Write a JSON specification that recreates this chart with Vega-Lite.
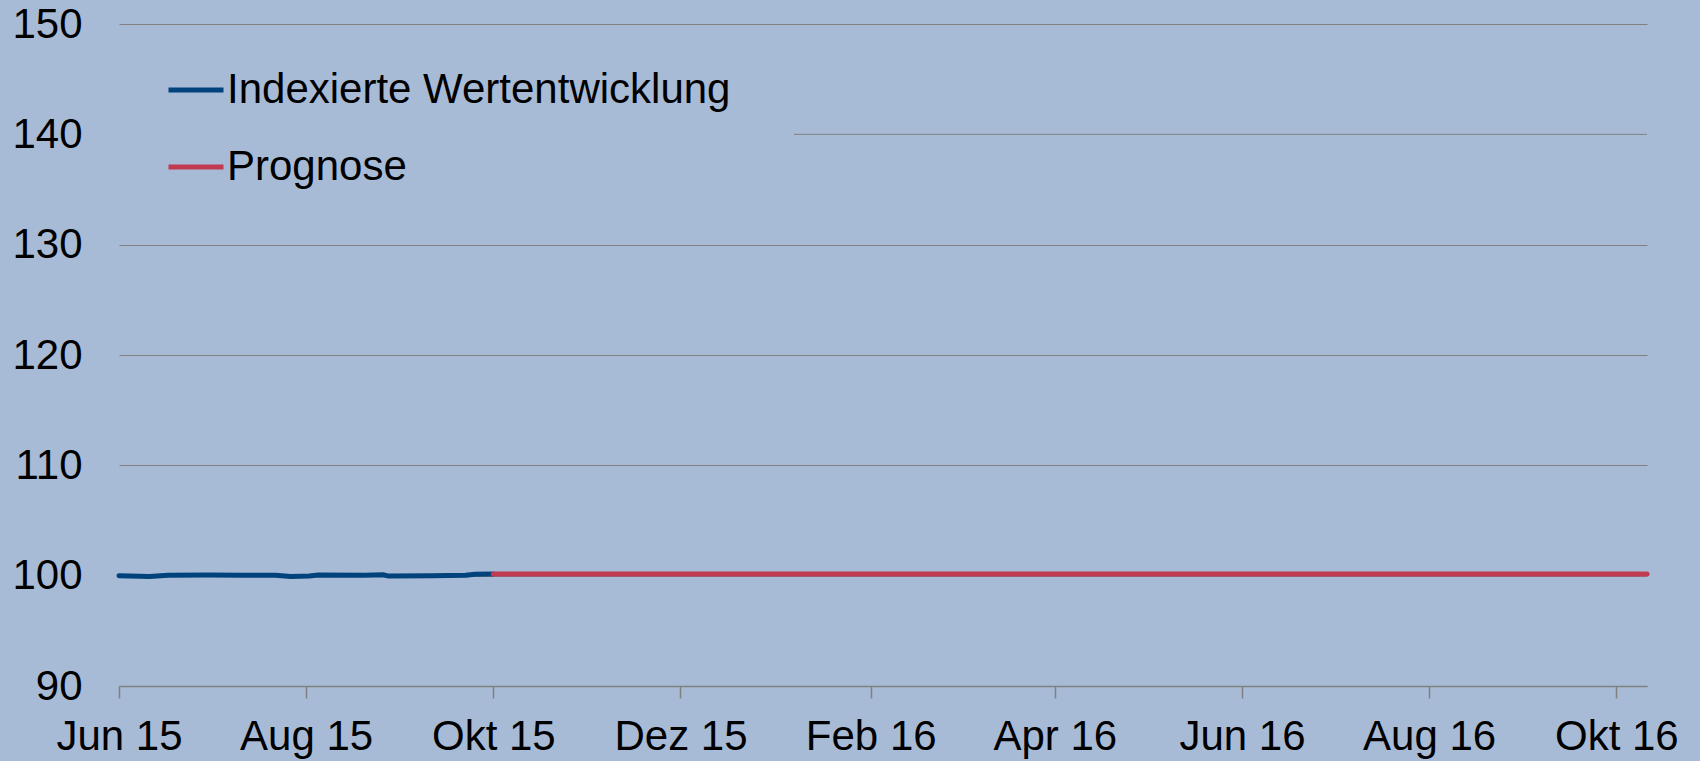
{
  "$schema": "https://vega.github.io/schema/vega-lite/v6.json",
  "width": 1528,
  "height": 662,
  "autosize": {"type": "none"},
  "padding": {"left": 119, "top": 24, "right": 53, "bottom": 75},
  "background": "#a8bbd6",
  "config": {"view": {"stroke": null}, "font": "Liberation Sans"},
  "datasets": {
    "series": [
      {"date": "2015-06-01T00:00:00", "value": 100.00, "series": "Indexierte Wertentwicklung"},
      {"date": "2015-06-11T00:00:00", "value": 99.92, "series": "Indexierte Wertentwicklung"},
      {"date": "2015-06-17T00:00:00", "value": 100.03, "series": "Indexierte Wertentwicklung"},
      {"date": "2015-06-30T00:00:00", "value": 100.05, "series": "Indexierte Wertentwicklung"},
      {"date": "2015-07-11T00:00:00", "value": 100.04, "series": "Indexierte Wertentwicklung"},
      {"date": "2015-07-22T00:00:00", "value": 100.04, "series": "Indexierte Wertentwicklung"},
      {"date": "2015-07-27T00:00:00", "value": 99.93, "series": "Indexierte Wertentwicklung"},
      {"date": "2015-08-02T00:00:00", "value": 99.98, "series": "Indexierte Wertentwicklung"},
      {"date": "2015-08-05T00:00:00", "value": 100.05, "series": "Indexierte Wertentwicklung"},
      {"date": "2015-08-20T00:00:00", "value": 100.04, "series": "Indexierte Wertentwicklung"},
      {"date": "2015-08-26T00:00:00", "value": 100.08, "series": "Indexierte Wertentwicklung"},
      {"date": "2015-08-28T00:00:00", "value": 99.96, "series": "Indexierte Wertentwicklung"},
      {"date": "2015-09-11T00:00:00", "value": 100.00, "series": "Indexierte Wertentwicklung"},
      {"date": "2015-09-22T00:00:00", "value": 100.04, "series": "Indexierte Wertentwicklung"},
      {"date": "2015-09-25T00:00:00", "value": 100.12, "series": "Indexierte Wertentwicklung"},
      {"date": "2015-10-01T00:00:00", "value": 100.15, "series": "Indexierte Wertentwicklung"},
      {"date": "2015-10-01T00:00:00", "value": 100.15, "series": "Prognose"},
      {"date": "2016-10-11T00:00:00", "value": 100.15, "series": "Prognose"}
    ],
    "grid140": [
      {"date": "2016-01-07T00:00:00", "date2": "2016-10-11T00:00:00", "value": 140}
    ]
  },
  "encoding": {
    "x": {
      "field": "date",
      "type": "temporal",
      "scale": {"domain": [{"year": 2015, "month": 6, "date": 1}, {"year": 2016, "month": 10, "date": 11}]},
      "axis": {
        "title": null,
        "values": [
          {"year": 2015, "month": 6, "date": 1}, {"year": 2015, "month": 8, "date": 1},
          {"year": 2015, "month": 10, "date": 1}, {"year": 2015, "month": 12, "date": 1},
          {"year": 2016, "month": 2, "date": 1}, {"year": 2016, "month": 4, "date": 1},
          {"year": 2016, "month": 6, "date": 1}, {"year": 2016, "month": 8, "date": 1},
          {"year": 2016, "month": 10, "date": 1}
        ],
        "labelExpr": "['Jan','Feb','Mär','Apr','Mai','Jun','Jul','Aug','Sep','Okt','Nov','Dez'][month(datum.value)] + ' ' + timeFormat(datum.value, '%y')",
        "grid": false,
        "domainColor": "#808080",
        "domainWidth": 1.5,
        "tickColor": "#808080",
        "tickWidth": 1.5,
        "tickSize": 12,
        "labelFontSize": 42,
        "labelColor": "#000000",
        "labelPadding": 18,
        "labelFlush": false,
        "labelOverlap": false
      }
    },
    "y": {
      "field": "value",
      "type": "quantitative",
      "scale": {"domain": [90, 150], "nice": false, "zero": false},
      "axis": {
        "title": null,
        "values": [90, 100, 110, 120, 130, 140, 150],
        "domain": false,
        "ticks": false,
        "grid": true,
        "gridColor": "#808080",
        "gridWidth": 1,
        "gridOpacity": {"condition": {"test": "datum.value === 140", "value": 0}, "value": 1},
        "labelFontSize": 42,
        "labelColor": "#000000",
        "labelPadding": 37
      }
    }
  },
  "layer": [
    {
      "data": {"name": "grid140"},
      "mark": {"type": "rule", "color": "#808080", "strokeWidth": 1},
      "encoding": {"x2": {"field": "date2"}}
    },
    {
      "data": {"name": "series"},
      "mark": {"type": "line", "strokeWidth": 5, "strokeCap": "round", "strokeJoin": "round"},
      "encoding": {
        "color": {
          "field": "series",
          "type": "nominal",
          "scale": {"domain": ["Indexierte Wertentwicklung", "Prognose"], "range": ["#00427c", "#c13a52"]},
          "legend": {
            "title": null,
            "orient": "none",
            "legendX": 47,
            "legendY": 36,
            "symbolType": "stroke",
            "symbolSize": 3025,
            "symbolStrokeWidth": 5,
            "labelFontSize": 42,
            "labelColor": "#000000",
            "labelLimit": 1000,
            "labelOffset": 1,
            "rowPadding": 26,
            "padding": 0
          }
        }
      }
    }
  ]
}
